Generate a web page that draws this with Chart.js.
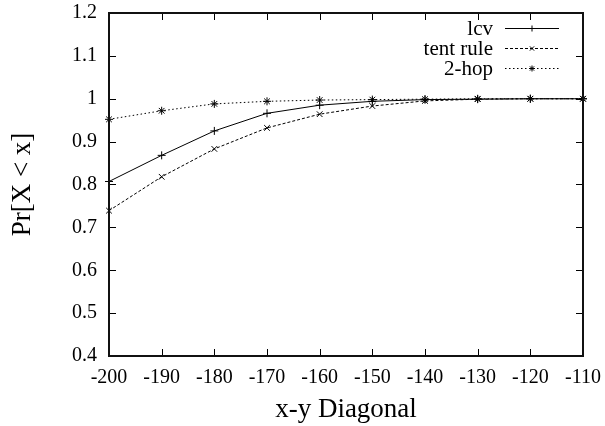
<!DOCTYPE html>
<html>
<head>
<meta charset="utf-8">
<script src="https://cdn.jsdelivr.net/npm/chart.js@4.4.1/dist/chart.umd.min.js"></script>
<style>
  html, body { margin: 0; padding: 0; background: #fff; }
  #wrap { width: 605px; height: 426px; position: relative; }
</style>
</head>
<body>
<div id="wrap"><canvas id="c" width="605" height="426"></canvas></div>
<script>
const xValues = [-200, -190, -180, -170, -160, -150, -140, -130, -120, -110];
const lcv = [0.807, 0.868, 0.925, 0.966, 0.985, 0.994, 0.998, 0.999, 1.0, 1.0];
const tentRule = [0.739, 0.818, 0.883, 0.932, 0.964, 0.983, 0.995, 0.999, 1.0, 1.0];
const twoHop = [0.952, 0.972, 0.988, 0.994, 0.997, 0.998, 0.999, 1.0, 1.0, 1.0];
const seriesNames = ['lcv', 'tent rule', '2-hop'];
const xTickLabels = ['-200', '-190', '-180', '-170', '-160', '-150', '-140', '-130', '-120', '-110'];
const yTickLabels = ['0.4', '0.5', '0.6', '0.7', '0.8', '0.9', '1', '1.1', '1.2'];
const xTitle = 'x-y Diagonal';
const yTitle = 'Pr[X < x]';

const FONT = '"Liberation Serif", "Times New Roman", serif';

function pts(vals) { return xValues.map((x, i) => ({ x: x, y: vals[i] })); }

const frameTicks = {
  id: 'frameTicks',
  afterDatasetsDraw(chart) {
    const { ctx, chartArea: a, scales } = chart;
    ctx.save();
    ctx.strokeStyle = '#000';
    ctx.lineWidth = 1;
    const tl = 7;
    ctx.beginPath();
    scales.x.ticks.forEach(t => {
      const px = Math.round(scales.x.getPixelForValue(t.value)) + 0.5;
      ctx.moveTo(px, a.bottom); ctx.lineTo(px, a.bottom - tl);
      ctx.moveTo(px, a.top); ctx.lineTo(px, a.top + tl);
    });
    scales.y.ticks.forEach(t => {
      const py = Math.round(scales.y.getPixelForValue(t.value)) + 0.5;
      ctx.moveTo(a.left, py); ctx.lineTo(a.left + tl, py);
      ctx.moveTo(a.right, py); ctx.lineTo(a.right - tl, py);
    });
    ctx.stroke();
    ctx.lineWidth = 2;
    ctx.strokeStyle = '#111';
    ctx.strokeRect(a.left, a.top, a.right - a.left, a.bottom - a.top);

    // legend (gnuplot style: text right-aligned, then line sample with marker)
    ctx.font = '21px ' + FONT;
    ctx.textAlign = 'right';
    ctx.textBaseline = 'middle';
    chart.data.datasets.forEach((ds, i) => {
      const y = 28.5 + i * 20;
      ctx.fillStyle = '#000';
      ctx.fillText(ds.label, 493, y + 1);
      ctx.beginPath();
      ctx.lineWidth = 1;
      ctx.strokeStyle = '#000';
      ctx.setLineDash(ds.borderDash || []);
      ctx.moveTo(505, y); ctx.lineTo(559, y);
      ctx.stroke();
      ctx.setLineDash([]);
      Chart.helpers.drawPoint(ctx, { pointStyle: ds.pointStyle, radius: 3, borderWidth: 1 }, 532, y);
    });
    ctx.restore();
  }
};

const mk = (label, data, dash, style) => ({
  label: label,
  data: pts(data),
  borderColor: '#000',
  backgroundColor: '#000',
  borderWidth: 1,
  borderDash: dash,
  pointStyle: style,
  pointRadius: 4,
  pointBorderWidth: 1,
  pointBorderColor: '#000',
  tension: 0,
  clip: false
});

new Chart(document.getElementById('c'), {
  type: 'line',
  data: {
    datasets: [
      mk(seriesNames[0], lcv, [], 'cross'),
      mk(seriesNames[1], tentRule, [3, 2], 'crossRot'),
      mk(seriesNames[2], twoHop, [1.5, 2.5], 'star')
    ]
  },
  options: {
    responsive: false,
    animation: false,
    layout: { padding: { top: 13, right: 22, left: 0, bottom: 0 } },
    plugins: { legend: { display: false }, tooltip: { enabled: false } },
    scales: {
      x: {
        type: 'linear',
        min: -200, max: -110,
        grid: { display: false, drawTicks: false },
        border: { display: false },
        ticks: {
          stepSize: 10,
          padding: 10,
          color: '#000',
          font: { family: FONT, size: 20 },
          maxRotation: 0,
          callback: (v, i) => xTickLabels[i]
        },
        title: {
          display: true, text: xTitle, color: '#000',
          font: { family: FONT, size: 27 },
          padding: { top: 0, bottom: 0 }
        },
        afterFit: s => { s.height = 70; s.paddingLeft = 0; s.paddingRight = 0; }
      },
      y: {
        min: 0.4, max: 1.2,
        grid: { display: false, drawTicks: false },
        border: { display: false },
        ticks: {
          stepSize: 0.1,
          padding: 12,
          color: '#000',
          font: { family: FONT, size: 20 },
          callback: (v, i) => yTickLabels[i]
        },
        title: {
          display: true, text: yTitle, color: '#000',
          font: { family: FONT, size: 27 },
          padding: { top: 7, bottom: 0 }
        },
        afterFit: s => { s.width = 109; s.paddingTop = 0; s.paddingBottom = 0; }
      }
    }
  },
  plugins: [frameTicks]
});
</script>
</body>
</html>
